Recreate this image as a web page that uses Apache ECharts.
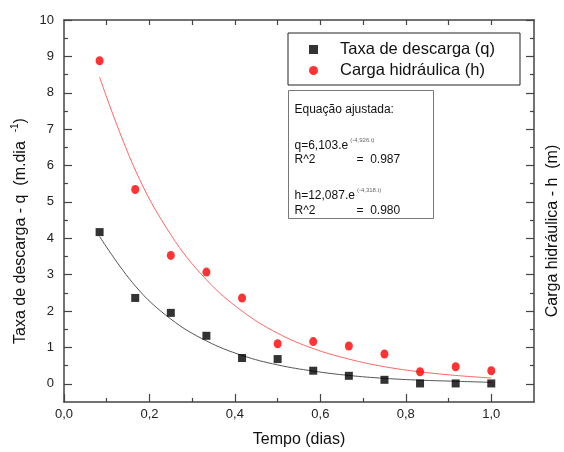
<!DOCTYPE html>
<html>
<head>
<meta charset="utf-8">
<script src="https://cdn.jsdelivr.net/npm/echarts@6/dist/echarts.min.js"></script>
<style>html,body{margin:0;padding:0;background:#fff}#c{width:564px;height:452px}</style>
</head>
<body>
<div id="c"></div>
<script>
// Data
const tempo = [0.0833, 0.1667, 0.25, 0.3333, 0.4167, 0.5, 0.5833, 0.6667, 0.75, 0.8333, 0.9167, 1.0];
const taxaDescarga = [4.17, 2.36, 1.95, 1.32, 0.71, 0.68, 0.36, 0.22, 0.11, 0.01, 0.01, 0.01];
const cargaHidraulica = [8.88, 5.34, 3.53, 3.07, 2.36, 1.10, 1.16, 1.04, 0.82, 0.33, 0.47, 0.36];
// Fitted curves
const ajusteQ = [4.05, 2.69, 1.78, 1.18, 0.78, 0.52, 0.35, 0.23, 0.15, 0.10, 0.07, 0.04];
const ajusteH = [8.43, 5.88, 4.10, 2.86, 2.00, 1.39, 0.97, 0.68, 0.47, 0.33, 0.23, 0.16];
// Ticks
const xMajorTicks = [0, 0.2, 0.4, 0.6, 0.8, 1.0];
const xMinorTicks = [0.1, 0.3, 0.5, 0.7, 0.9];
const xTopTicks = [0.1, 0.2, 0.3, 0.4, 0.5, 0.6, 0.7, 0.8, 0.9, 1.0];
const yMajorTicks = [0, 1, 2, 3, 4, 5, 6, 7, 8, 9, 10];
const yMinorTicks = [0.5, 1.5, 2.5, 3.5, 4.5, 5.5, 6.5, 7.5, 8.5, 9.5];

const FONT = 'Liberation Sans, Arial, sans-serif';
const AX = '#444';
const pair = (xs, ys) => xs.map((x, i) => [x, ys[i]]);

const chart = echarts.init(document.getElementById('c'));

function xAx(pos, ticks, len, labels, line, extra) {
  return Object.assign({
    type: 'value', position: pos, min: 0, max: 1.1,
    axisLine: {show: line, onZero: false, lineStyle: {color: AX, width: 1.5}},
    axisTick: {show: true, inside: true, length: len, customValues: ticks, lineStyle: {color: AX, width: 1.2}},
    axisLabel: labels ? {customValues: ticks, formatter: v => v.toFixed(1).replace('.', ','), color: '#222', fontSize: 13, fontFamily: FONT, margin: 6} : {show: false},
    splitLine: {show: false}
  }, extra || {});
}
function yAx(pos, ticks, len, labels, line, extra) {
  return Object.assign({
    type: 'value', position: pos, min: -0.5, max: 10,
    axisLine: {show: line, onZero: false, lineStyle: {color: AX, width: 1.5}},
    axisTick: {show: true, inside: true, length: len, customValues: ticks, lineStyle: {color: AX, width: 1.2}},
    axisLabel: labels ? {customValues: ticks, color: '#222', fontSize: 13, fontFamily: FONT, margin: 10} : {show: false},
    splitLine: {show: false}
  }, extra || {});
}

chart.setOption({
  animation: false,
  backgroundColor: '#fff',
  grid: {left: 64, right: 30, top: 20, bottom: 50, containLabel: false, outerBoundsMode: 'none'},
  xAxis: [
    xAx('bottom', xMajorTicks, 8, true, true, {
      name: 'Tempo (dias)', nameLocation: 'middle', nameGap: 30,
      nameTextStyle: {fontSize: 16, fontFamily: FONT, color: '#111'}
    }),
    xAx('bottom', xMinorTicks, 4, false, false),
    xAx('top', xTopTicks, 5, false, true)
  ],
  yAxis: [
    yAx('left', yMajorTicks, 8, true, true, {
      name: 'Taxa de descarga - q  (m.dia  {sup|-1})', nameLocation: 'middle', nameGap: 31, nameRotate: 90,
      nameTextStyle: {fontSize: 16, fontFamily: FONT, color: '#111', padding: [0, 40, 0, 0],
        rich: {sup: {fontSize: 10, fontFamily: FONT, color: '#111', verticalAlign: 'top', padding: [0, 0, 10, 0]}}}
    }),
    yAx('left', yMinorTicks, 4, false, false),
    yAx('right', yMajorTicks, 8, false, true, {
      name: 'Carga hidráulica - h  (m)', nameLocation: 'middle', nameGap: 11, nameRotate: 90,
      nameTextStyle: {fontSize: 16, fontFamily: FONT, color: '#111', padding: [0, 40, 0, 0]}
    }),
    yAx('right', yMinorTicks, 4, false, false)
  ],
  legend: {
    data: [
      {name: 'Taxa de descarga (q)', icon: 'rect'},
      {name: 'Carga hidráulica (h)', icon: 'circle'}
    ],
    orient: 'vertical', left: 288, top: 33,
    itemWidth: 9, itemHeight: 9, itemGap: 4,
    padding: [8, 25, 6, 21],
    borderColor: '#222', borderWidth: 1, backgroundColor: '#fff',
    textStyle: {fontSize: 16.5, fontFamily: FONT, color: '#111', padding: [0, 0, 0, 17], lineHeight: 16}
  },
  graphic: [{
    type: 'group', left: 288, top: 90,
    children: [
      {type: 'rect', shape: {x: 0, y: 0, width: 145, height: 128}, style: {fill: '#fff', stroke: '#777', lineWidth: 1}},
      {type: 'text', x: 6, y: 19, style: {text: 'Equação ajustada:', font: '12px ' + FONT, fill: '#111', verticalAlign: 'middle'}},
      {type: 'text', x: 6, y: 55, style: {text: 'q=6,103.e{sup|(-4,926.t)}', font: '12px ' + FONT, fill: '#111', verticalAlign: 'middle',
        rich: {sup: {fontSize: 6, fontFamily: FONT, fill: '#666', verticalAlign: 'top', padding: [0, 0, 10, 2]}}}},
      {type: 'text', x: 6, y: 69, style: {text: 'R^2', font: '12px ' + FONT, fill: '#111', verticalAlign: 'middle'}},
      {type: 'text', x: 68, y: 69, style: {text: '=  0.987', font: '12px ' + FONT, fill: '#111', verticalAlign: 'middle'}},
      {type: 'text', x: 6, y: 105, style: {text: 'h=12,087.e{sup|(-4,318.t)}', font: '12px ' + FONT, fill: '#111', verticalAlign: 'middle',
        rich: {sup: {fontSize: 6, fontFamily: FONT, fill: '#666', verticalAlign: 'top', padding: [0, 0, 10, 2]}}}},
      {type: 'text', x: 6, y: 120, style: {text: 'R^2', font: '12px ' + FONT, fill: '#111', verticalAlign: 'middle'}},
      {type: 'text', x: 68, y: 120, style: {text: '=  0.980', font: '12px ' + FONT, fill: '#111', verticalAlign: 'middle'}}
    ]
  }],
  series: [
    {name: 'Ajuste q', type: 'line', smooth: 0.4, showSymbol: false, data: pair(tempo, ajusteQ),
      lineStyle: {color: '#555', width: 1}, z: 2, silent: true},
    {name: 'Ajuste h', type: 'line', smooth: 0.4, showSymbol: false, data: pair(tempo, ajusteH),
      lineStyle: {color: '#ff6666', width: 1}, z: 2, silent: true},
    {name: 'Taxa de descarga (q)', type: 'scatter', symbol: 'rect', symbolSize: 8,
      data: pair(tempo, taxaDescarga), itemStyle: {color: '#000'}, z: 3},
    {name: 'Carga hidráulica (h)', type: 'scatter', symbol: 'circle', symbolSize: [8, 9],
      data: pair(tempo, cargaHidraulica), itemStyle: {color: '#ff0000'}, z: 3}
  ]
});
</script>
</body>
</html>
